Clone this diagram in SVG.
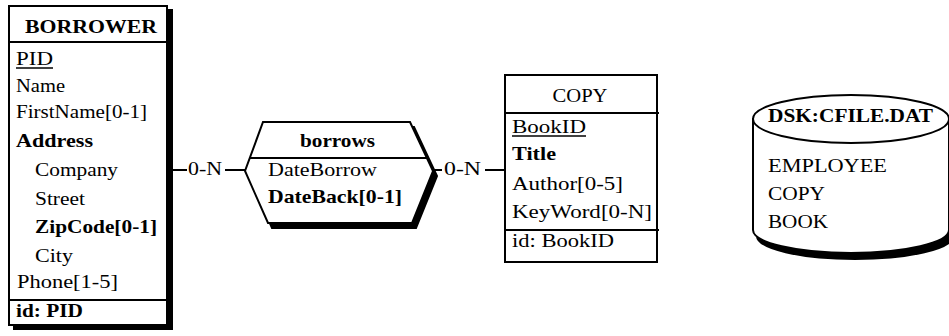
<svg xmlns="http://www.w3.org/2000/svg" width="949" height="336" viewBox="0 0 949 336">
<style>
text{font-family:"Liberation Serif","Times New Roman",Times,serif;font-size:19px;fill:#000}
.b{font-weight:bold}
.box{fill:#fff;stroke:#000;stroke-width:2}
.sh{fill:#000;stroke:#000;stroke-width:2}
.ln{stroke:#000;stroke-width:2;fill:none}
</style>
<rect width="949" height="336" fill="#fff"/>
<g id="connectors">
<line class="ln" x1="173" y1="170" x2="187" y2="170"/>
<text x="188" y="175" textLength="34" lengthAdjust="spacingAndGlyphs">0-N</text>
<line class="ln" x1="225" y1="170" x2="245" y2="170"/>
<line class="ln" x1="433" y1="170" x2="442" y2="170"/>
<text x="444" y="175" textLength="37" lengthAdjust="spacingAndGlyphs">0-N</text>
<line class="ln" x1="485" y1="170" x2="505" y2="170"/>
</g>
<g id="borrower">
<rect class="sh" x="14" y="10" width="158" height="319"/>
<rect class="box" x="9" y="6" width="158" height="319"/>
<line class="ln" x1="9" y1="42" x2="167" y2="42"/>
<line class="ln" x1="9" y1="300" x2="167" y2="300"/>
<text class="b" x="91" y="33" text-anchor="middle" textLength="132" lengthAdjust="spacingAndGlyphs">BORROWER</text>
<text x="16" y="65" textLength="37" lengthAdjust="spacingAndGlyphs">PID</text>
<line x1="16" y1="68" x2="53" y2="68" stroke="#000" stroke-width="1.3"/>
<text x="16" y="92" textLength="49" lengthAdjust="spacingAndGlyphs">Name</text>
<text x="16" y="118" textLength="131" lengthAdjust="spacingAndGlyphs">FirstName[0-1]</text>
<text class="b" x="16" y="147" textLength="77" lengthAdjust="spacingAndGlyphs">Address</text>
<text x="35" y="176" textLength="83" lengthAdjust="spacingAndGlyphs">Company</text>
<text x="35" y="205" textLength="50" lengthAdjust="spacingAndGlyphs">Street</text>
<text class="b" x="35" y="233" textLength="122" lengthAdjust="spacingAndGlyphs">ZipCode[0-1]</text>
<text x="35" y="262" textLength="38" lengthAdjust="spacingAndGlyphs">City</text>
<text x="17" y="288" textLength="101" lengthAdjust="spacingAndGlyphs">Phone[1-5]</text>
<text class="b" x="16" y="317" textLength="67" lengthAdjust="spacingAndGlyphs">id: PID</text>
</g>
<g id="borrows">
<polygon class="sh" points="267,127 414,127 437,176 416,228 272,228 249,176"/>
<polygon class="box" points="263,122 410,122 433,171 412,223 268,223 245,171"/>
<line class="ln" x1="250" y1="158" x2="427" y2="158"/>
<text class="b" x="337.5" y="147" text-anchor="middle" textLength="75" lengthAdjust="spacingAndGlyphs">borrows</text>
<text x="268" y="176" textLength="109" lengthAdjust="spacingAndGlyphs">DateBorrow</text>
<text class="b" x="268" y="203" textLength="134" lengthAdjust="spacingAndGlyphs">DateBack[0-1]</text>
</g>
<g id="copy">
<rect class="box" x="505" y="75" width="152" height="187"/>
<line class="ln" x1="505" y1="113" x2="659" y2="113"/>
<line class="ln" x1="505" y1="230" x2="659" y2="230"/>
<text x="580" y="102" text-anchor="middle" textLength="55" lengthAdjust="spacingAndGlyphs">COPY</text>
<text x="512" y="133" textLength="74" lengthAdjust="spacingAndGlyphs">BookID</text>
<line x1="512" y1="136" x2="586" y2="136" stroke="#000" stroke-width="1.3"/>
<text class="b" x="512" y="160" textLength="44" lengthAdjust="spacingAndGlyphs">Title</text>
<text x="512" y="190" textLength="111" lengthAdjust="spacingAndGlyphs">Author[0-5]</text>
<text x="512" y="218" textLength="140" lengthAdjust="spacingAndGlyphs">KeyWord[0-N]</text>
<text x="512" y="247" textLength="102" lengthAdjust="spacingAndGlyphs">id: BookID</text>
</g>
<g id="cfile">
<path class="sh" d="M757,125 L757,236 A98,23 0 0 0 953,236 L953,125 Z"/>
<path class="box" d="M753,119 L753,230 A98,23 0 0 0 949,230 L949,119 Z"/>
<ellipse class="box" cx="851" cy="119" rx="98" ry="24"/>
<text class="b" x="768" y="122" textLength="165" lengthAdjust="spacingAndGlyphs">DSK:CFILE.DAT</text>
<text x="768" y="172" textLength="119" lengthAdjust="spacingAndGlyphs">EMPLOYEE</text>
<text x="768" y="200" textLength="57" lengthAdjust="spacingAndGlyphs">COPY</text>
<text x="768" y="228" textLength="60" lengthAdjust="spacingAndGlyphs">BOOK</text>
</g>
</svg>
